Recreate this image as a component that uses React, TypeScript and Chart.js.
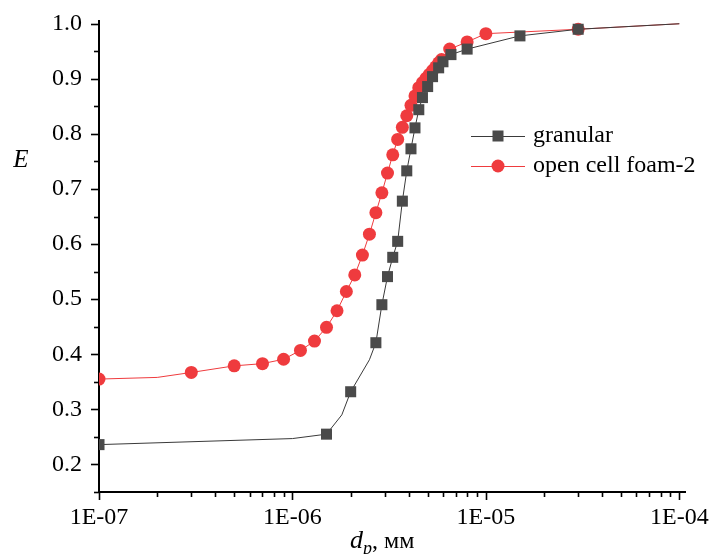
import React, { useEffect, useRef } from "react";
import { Chart, registerables } from "chart.js";

Chart.register(...registerables);

// ---- data ----
const granularX = [1e-7, 1e-6, 1.5e-6, 1.8e-6, 2.0e-6, 2.5e-6, 2.7e-6, 2.9e-6, 3.1e-6, 3.3e-6, 3.5e-6, 3.7e-6, 3.9e-6, 4.1e-6, 4.3e-6, 4.5e-6, 4.7e-6, 5.0e-6, 5.3e-6, 5.7e-6, 6.0e-6, 6.6e-6, 8.0e-6, 1.5e-5, 3.0e-5, 1.0e-4];
const granularE = [0.236, 0.247, 0.255, 0.29, 0.332, 0.39, 0.421, 0.49, 0.541, 0.576, 0.605, 0.678, 0.733, 0.773, 0.811, 0.844, 0.866, 0.886, 0.904, 0.92, 0.931, 0.944, 0.954, 0.978, 0.99, 1.0];
const granularMarked = [1, 0, 1, 0, 1, 0, 1, 1, 1, 1, 1, 1, 1, 1, 1, 1, 1, 1, 1, 1, 1, 1, 1, 1, 1, 0];

const foamX = [1e-7, 2e-7, 3e-7, 5e-7, 7e-7, 9e-7, 1.1e-6, 1.3e-6, 1.5e-6, 1.7e-6, 1.9e-6, 2.1e-6, 2.3e-6, 2.5e-6, 2.7e-6, 2.9e-6, 3.1e-6, 3.3e-6, 3.5e-6, 3.7e-6, 3.9e-6, 4.1e-6, 4.3e-6, 4.5e-6, 4.7e-6, 4.9e-6, 5.1e-6, 5.3e-6, 5.5e-6, 5.7e-6, 5.9e-6, 6.5e-6, 8e-6, 1e-5, 3e-5, 1e-4];
const foamE = [0.355, 0.358, 0.367, 0.379, 0.383, 0.391, 0.407, 0.424, 0.449, 0.479, 0.514, 0.544, 0.58, 0.618, 0.657, 0.693, 0.729, 0.762, 0.79, 0.812, 0.833, 0.852, 0.869, 0.884, 0.893, 0.901, 0.908, 0.915, 0.922, 0.929, 0.935, 0.954, 0.967, 0.982, 0.99, 1.0];
const foamMarked = [1, 0, 1, 1, 1, 1, 1, 1, 1, 1, 1, 1, 1, 1, 1, 1, 1, 1, 1, 1, 1, 1, 1, 1, 1, 1, 1, 1, 1, 1, 1, 1, 1, 1, 1, 0];

const seriesNames = ["granular", "open cell foam-2"];
const xMajorTicks = [1e-7, 1e-6, 1e-5, 1e-4];
const yMajorTicks = [0.2, 0.3, 0.4, 0.5, 0.6, 0.7, 0.8, 0.9, 1.0];
const yMinorTicks = [0.15, 0.25, 0.35, 0.45, 0.55, 0.65, 0.75, 0.85, 0.95];

const GRAY = "#4a4a4a";
const GRAY_LINE = "#3a3a3a";
const RED = "#ef3b3e";
const FONT = "'Liberation Serif', 'Times New Roman', serif";

function fmtExp(v: number): string {
  const e = Math.round(Math.log10(v));
  return "1E" + (e < 0 ? "-" : "+") + String(Math.abs(e)).padStart(2, "0");
}

const decorPlugin = {
  id: "decor",
  afterDraw(chart: any) {
    const ctx = chart.ctx;
    const xs = chart.scales.x;
    const ys = chart.scales.y;
    const area = chart.chartArea;
    ctx.save();
    ctx.strokeStyle = "#000";
    ctx.lineWidth = 1.6;
    const yTick = (v: number, len: number) => {
      const p = Math.round(ys.getPixelForValue(v)) + 0.5;
      ctx.beginPath();
      ctx.moveTo(area.left - len, p);
      ctx.lineTo(area.left, p);
      ctx.stroke();
    };
    yMajorTicks.forEach((v) => yTick(v, 8));
    yMinorTicks.forEach((v) => yTick(v, 5));
    const xTick = (v: number, len: number) => {
      const p = Math.round(xs.getPixelForValue(v)) + 0.5;
      ctx.beginPath();
      ctx.moveTo(p, area.bottom);
      ctx.lineTo(p, area.bottom + len);
      ctx.stroke();
    };
    xMajorTicks.forEach((v) => xTick(v, 8));
    for (let d = 0; d < xMajorTicks.length - 1; d++) {
      for (let m = 2; m <= 9; m++) xTick(xMajorTicks[d] * m, 5);
    }

    // legend
    const legendItems = [
      { name: seriesNames[0], color: GRAY, line: GRAY_LINE, shape: "rect", y: 136 },
      { name: seriesNames[1], color: RED, line: RED, shape: "circle", y: 166 },
    ];
    legendItems.forEach((it) => {
      ctx.strokeStyle = it.line;
      ctx.lineWidth = 1;
      ctx.beginPath();
      ctx.moveTo(471, it.y + 0.5);
      ctx.lineTo(525, it.y + 0.5);
      ctx.stroke();
      ctx.fillStyle = it.color;
      if (it.shape === "rect") {
        ctx.fillRect(498 - 5.5, it.y - 5.5, 11, 11);
      } else {
        ctx.beginPath();
        ctx.arc(498, it.y, 6.5, 0, Math.PI * 2);
        ctx.fill();
      }
      ctx.fillStyle = "#000";
      ctx.font = "24px " + FONT;
      ctx.textBaseline = "middle";
      ctx.textAlign = "left";
      ctx.fillText(it.name, 533, it.y);
    });

    // axis titles
    ctx.fillStyle = "#000";
    ctx.textBaseline = "alphabetic";
    ctx.font = "italic 25px " + FONT;
    ctx.textAlign = "center";
    ctx.fillText("E", 21, 167);

    ctx.textAlign = "left";
    let x = 350;
    const base = 548;
    ctx.font = "italic 26px " + FONT;
    ctx.fillText("d", x, base);
    x += ctx.measureText("d").width;
    ctx.font = "italic 18px " + FONT;
    ctx.fillText("p", x, base + 6);
    x += ctx.measureText("p").width;
    ctx.font = "24px " + FONT;
    ctx.fillText(", мм", x, base);
    ctx.restore();
  },
};

export default function App() {
  const ref = useRef<HTMLCanvasElement>(null);
  useEffect(() => {
    document.body.style.margin = "0";
    const canvas = ref.current!;
    const chart = new Chart(canvas, {
      type: "line",
      data: {
        datasets: [
          {
            label: seriesNames[0],
            data: granularX.map((x, i) => ({ x, y: granularE[i] })),
            borderColor: GRAY_LINE,
            backgroundColor: GRAY,
            borderWidth: 1,
            pointStyle: "rect",
            pointRadius: granularMarked.map((m) => (m ? 7.8 : 0)),
            pointBorderWidth: 0,
            pointBackgroundColor: GRAY,
            tension: 0,
          },
          {
            label: seriesNames[1],
            data: foamX.map((x, i) => ({ x, y: foamE[i] })),
            borderColor: RED,
            backgroundColor: RED,
            borderWidth: 1,
            pointStyle: "circle",
            pointRadius: foamMarked.map((m) => (m ? 6.5 : 0)),
            pointBorderWidth: 0,
            pointBackgroundColor: RED,
            tension: 0,
          },
        ],
      },
      options: {
        responsive: false,
        animation: false,
        devicePixelRatio: 1,
        layout: { padding: { top: 21, right: 27, left: 0, bottom: 0 } },
        plugins: { legend: { display: false }, tooltip: { enabled: false } },
        scales: {
          x: {
            type: "logarithmic",
            min: 1e-7,
            max: 1.07e-4,
            grid: { display: false, drawTicks: false },
            border: { display: true, color: "#000", width: 2 },
            afterBuildTicks: (s: any) => {
              s.ticks = xMajorTicks.map((v) => ({ value: v }));
            },
            afterFit: (s: any) => {
              s.height = 62;
              s.paddingLeft = 0;
              s.paddingRight = 0;
            },
            ticks: {
              autoSkip: false,
              maxRotation: 0,
              padding: 11,
              color: "#000",
              font: { family: FONT, size: 24 },
              callback: (v: any) => fmtExp(Number(v)),
            },
          },
          y: {
            type: "linear",
            min: 0.15,
            max: 1.005,
            grid: { display: false, drawTicks: false },
            border: { display: true, color: "#000", width: 2 },
            afterBuildTicks: (s: any) => {
              s.ticks = yMajorTicks.map((v) => ({ value: v }));
            },
            afterFit: (s: any) => {
              s.width = 99;
              s.paddingTop = 0;
              s.paddingBottom = 0;
            },
            ticks: {
              autoSkip: false,
              padding: 17,
              color: "#000",
              font: { family: FONT, size: 24 },
              callback: (v: any) => Number(v).toFixed(1),
            },
          },
        },
      },
      plugins: [decorPlugin],
    } as any);
    return () => chart.destroy();
  }, []);
  return <canvas ref={ref} width={712} height={554} style={{ display: "block" }} />;
}
